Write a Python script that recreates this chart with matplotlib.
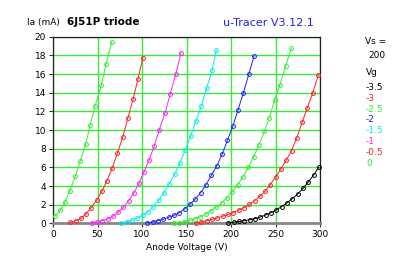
import matplotlib
matplotlib.use("Agg")
import matplotlib.pyplot as plt

# ---- data ----
vg_labels = ["-3.5", "-3", "-2.5", "-2", "-1.5", "-1", "-0.5", "0"]
vg_colors = ["#000000", "#ff2020", "#33ee33", "#2020ff", "#00eeee", "#ff20ff", "#ff2020", "#33ee33"]

va_0 = [2.2, 8.2, 13.5, 19, 25, 30.7, 37, 41.6, 47.2, 54.3, 59.6, 66]
ia_0 = [0.78, 1.4, 2.3, 3.5, 5.05, 6.7, 8.55, 10.5, 12.55, 14.8, 17.1, 19.4]

va_m05 = [19, 25.8, 31.5, 37, 42.7, 49, 55, 60.7, 66.6, 72.3, 78.6, 84, 90, 95.5, 101]
ia_m05 = [0.1, 0.3, 0.53, 1.0, 1.67, 2.46, 3.45, 4.56, 5.95, 7.5, 9.3, 11.25, 13.3, 15.5, 17.75]

va_m1 = [44, 49, 55.4, 61.5, 67, 73, 79, 85, 90.7, 96.6, 102.2, 107.9, 113.8, 119.4, 125.8, 131.8, 137.9, 143.8]
ia_m1 = [0.05, 0.14, 0.28, 0.46, 0.75, 1.18, 1.71, 2.42, 3.24, 4.28, 5.49, 6.77, 8.3, 10.05, 11.8, 13.9, 16.0, 18.25]

va_m15 = [76.7, 82.7, 88.7, 94.7, 100.7, 106.7, 112.7, 118.7, 124.7, 130.7, 136.7, 142.7, 148.7, 154.7, 160.7, 166.6, 172.7, 178.7, 183.5]
ia_m15 = [0.07, 0.18, 0.33, 0.55, 0.85, 1.25, 1.8, 2.5, 3.3, 4.25, 5.3, 6.5, 7.9, 9.4, 10.97, 12.6, 14.5, 16.4, 18.55]

va_m2 = [106, 112, 118, 124, 130, 136, 142, 148, 154, 160, 166, 172, 178, 184, 190, 196, 202, 208, 214, 220, 225.8]
ia_m2 = [0.05, 0.15, 0.3, 0.45, 0.65, 0.85, 1.15, 1.55, 2.05, 2.6, 3.3, 4.15, 5.15, 6.15, 7.4, 8.9, 10.4, 12.2, 14.0, 16.0, 17.9]

va_m25 = [135.5, 141.5, 147.5, 153.5, 159.5, 165.5, 171.5, 177.5, 183.5, 189.5, 195.5, 201.5, 207.5, 213.5,
          219.5, 225.5, 231.5, 237.5, 243, 249, 255, 261.4, 267.8]
ia_m25 = [0.02, 0.08, 0.18, 0.32, 0.5, 0.72, 1.0, 1.35, 1.75, 2.2, 2.75, 3.4, 4.15, 5.0,
          6.0, 7.12, 8.45, 9.85, 11.33, 13.2, 14.87, 16.86, 18.75]

va_m3 = [160.5, 166.5, 172.5, 178.5, 184.5, 190.5, 196.5, 202.5, 208.5, 214.5, 220.5, 226.5, 232.5, 238.5,
         244, 250, 256, 262, 268, 274, 280, 285.5, 291.8, 298]
ia_m3 = [0.05, 0.15, 0.28, 0.42, 0.58, 0.76, 0.95, 1.15, 1.4, 1.68, 2.02, 2.42, 2.9, 3.45,
         4.15, 4.95, 5.8, 6.75, 7.8, 9.2, 10.85, 12.33, 13.97, 15.86]

va_m35 = [197, 203, 209, 215, 221, 227, 233, 239, 245, 251, 257, 263, 269, 275, 281, 287, 293, 298.5]
ia_m35 = [0.05, 0.12, 0.2, 0.28, 0.38, 0.5, 0.68, 0.9, 1.15, 1.45, 1.8, 2.2, 2.65, 3.15, 3.75, 4.45, 5.2, 6.0]

curves_va = [va_m35, va_m3, va_m25, va_m2, va_m15, va_m1, va_m05, va_0]
curves_ia = [ia_m35, ia_m3, ia_m25, ia_m2, ia_m15, ia_m1, ia_m05, ia_0]

x_ticks = [0, 50, 100, 150, 200, 250, 300]
y_ticks = [0, 2, 4, 6, 8, 10, 12, 14, 16, 18, 20]

plt.rcParams['font.family'] = ['DejaVu Sans']
fig = plt.figure(figsize=(4.0, 2.61), dpi=100)
ax = fig.add_axes([0.1325, 0.1444, 0.6675, 0.7146])

ax.set_xlim(0, 300)
ax.set_ylim(0, 20)
ax.set_xticks(x_ticks)
ax.set_yticks(y_ticks)
ax.set_xticklabels([str(v) for v in x_ticks], fontsize=6.5)
ax.set_yticklabels([str(v) for v in y_ticks], fontsize=6.5)
ax.tick_params(axis='both', length=3, width=0.8, color='#333333', pad=2)
ax.grid(True, color='#3be83b', linewidth=1.0)
ax.set_axisbelow(True)

for s in ['top', 'right', 'left']:
    ax.spines[s].set_color('#222222')
    ax.spines[s].set_linewidth(0.9)
ax.spines['bottom'].set_color('#888888')
ax.spines['bottom'].set_linewidth(2.0)

for va, ia, c in zip(curves_va, curves_ia, vg_colors):
    ax.plot(va, ia, color=c, linewidth=0.7, marker='o', markersize=2.8,
            markerfacecolor='none', markeredgewidth=0.7, markeredgecolor=c, clip_on=False, zorder=3)

ax.set_xlabel("Anode Voltage (V)", fontsize=6.5, labelpad=3)

fig.text(27/400, 1 - 22/261, "Ia (mA)", fontsize=6.5, va='center', ha='left')
fig.text(67/400, 1 - 22/261, "6J51P triode", fontsize=7.5, fontweight='bold', va='center', ha='left')
fig.text(223/400, 1 - 23/261, "u-Tracer V3.12.1", fontsize=8, color='#2020ee', va='center', ha='left')

fig.text(365/400, 1 - 42/261, "Vs =", fontsize=6.5, va='center', ha='left')
fig.text(368/400, 1 - 55/261, "200", fontsize=6.5, va='center', ha='left')
fig.text(366/400, 1 - 73/261, "Vg", fontsize=6.5, va='center', ha='left')
for i, (lab, c) in enumerate(zip(vg_labels, vg_colors)):
    fig.text(366/400, 1 - (87.3 + i * 10.85)/261, lab, fontsize=6.5, color=c, va='center', ha='left')

fig.savefig("out.png", dpi=100)
